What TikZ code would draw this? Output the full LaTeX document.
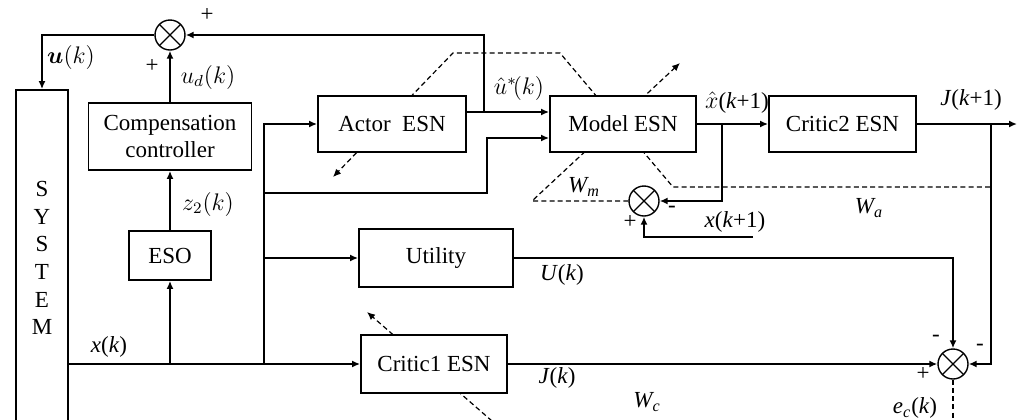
\documentclass[tikz,border=0pt]{standalone}
\usepackage{amsmath,amssymb}
\usepackage{fontspec}
\setmainfont{Liberation Serif}
\usetikzlibrary{arrows.meta}

\tikzset{
	blk/.style={draw,line width=0.9pt,fill=white,align=center,inner sep=0pt},
	sumnode/.style={draw,circle,line width=0.7pt,minimum size=15pt,inner sep=0pt,fill=white,
		path picture={\draw[line width=0.6pt](path picture bounding box.north west)--(path picture bounding box.south east)
			(path picture bounding box.north east)--(path picture bounding box.south west);}},
	wire/.style={line width=0.8pt},
	arr/.style={wire,-{Latex[length=4pt,width=3.5pt]}},
	wt/.style={line width=0.6pt,dash pattern=on 2.5pt off 1.6pt},
	wtarr/.style={wt,-{Latex[length=4pt,width=3.5pt]}}
}

\begin{document}
\begin{tikzpicture}[x=0.5pt,y=-0.5pt,font=\fontsize{11.5}{13.8}\selectfont]
	
	\useasboundingbox (0,0) rectangle (1024,419);
	\clip (0,0) rectangle (1024,419);
	
	\node[sumnode](s1) at (170,35){};
	\node[sumnode](s2) at (644,201){};
	\node[sumnode](s3) at (953,364){};
	
	
	\draw[wtarr](990,187)--(673,187)--(560,53)--(453,53)--(333,177);
	\draw[wtarr](s2.west)--(532,201)--(680,63);
	\draw[wtarr](492,421)--(367,312);
	
	
	\node[blk,minimum width=26pt,minimum height=168pt,font=\fontsize{11.5}{13.8}\selectfont](sys) at (42,258){S\\Y\\S\\T\\E\\M};
	\node[blk,minimum width=81.5pt,minimum height=33.5pt,font=\fontsize{11.5}{13.5}\selectfont](comp) at (170,136.5){Compensation\\controller};
	\node[blk,minimum width=41pt,minimum height=24.5pt](eso) at (170,255.5){ESO};
	\node[blk,minimum width=74pt,minimum height=28pt](actor) at (392,124){Actor\enspace ESN};
	\node[blk,minimum width=73pt,minimum height=28pt](model) at (623,124){Model ESN};
	\node[blk,minimum width=73.5pt,minimum height=28pt](crit2) at (842.5,124){Critic2 ESN};
	\node[blk,minimum width=77pt,minimum height=29pt](util) at (436,258){Utility};
	\node[blk,minimum width=73pt,minimum height=29pt](crit1) at (434,364){Critic1 ESN};
	
	
	\coordinate (jv) at (264,364);
	\coordinate (a1) at ([yshift=6pt]actor.east);
	\coordinate (m1) at ([yshift=6pt]model.west);
	\coordinate (m2) at ([yshift=-7pt]model.west);
	\coordinate (ja) at (484,112);
	\coordinate (jx) at (722,124);
	\coordinate (xin) at (753,237);
	\coordinate (jj) at (991,124);
	\coordinate (jout) at (1017,124);
	\coordinate (ecend) at (953,425);
	
	
	\draw[arr](s1)-|(sys.north);
	\draw[arr](comp)--(s1);
	\draw[arr](eso)--(comp);
	\draw[arr](sys.east |- crit1.west)--(crit1.west);
	\draw[arr](eso.south |- crit1.west)--(eso.south);
	\draw[arr](jv)|-(actor.west);
	\draw[arr](jv |- util.west)--(util.west);
	\draw[arr](jv |- 0,193)-|([xshift=-31pt]m2)--(m2);
	\draw[arr](a1)--(m1);
	\draw[arr](ja)|-(s1);
	\draw[arr](model)--(crit2);
	\draw[arr](jx)|-(s2);
	\draw[arr](xin)-|(s2);
	\draw[arr](crit2)--(jout);
	\draw[arr](jj)|-(s3);
	\draw[arr](util)-|(s3);
	\draw[arr](crit1)--(s3);
	\draw[wt](s3)--(ecend);
	
	
	\node at (71,57){$\boldsymbol{u}(k)$};
	\node at (207,15){+};
	\node at (152,66){+};
	\node at (208,77){$u_d(k)$};
	\node at (208,204){$z_2(k)$};
	\node at (109,347){\textit{x}(\textit{k})};
	\node at (519,88){$\hat{u}^{*}\!(k)$};
	\node at (737,103){$\hat{x}$(\textit{k}+1)};
	\node at (971,100){\textit{J}(\textit{k}+1)};
	\node at (584,187){\textit{W\textsubscript{m}}};
	\node at (869,208){\textit{W\textsubscript{a}}};
	\node at (735,222){\textit{x}(\textit{k}+1)};
	\node at (672,209){-};
	\node at (630,222){+};
	\node at (562,275){\textit{U}(\textit{k})};
	\node at (557,378){\textit{J}(\textit{k})};
	\node at (647,402){\textit{W\textsubscript{c}}};
	\node at (936,338){-};
	\node at (980,347){-};
	\node at (923,374){+};
	\node at (915,408){\textit{e\textsubscript{c}}(\textit{k})};
	
\end{tikzpicture}
\end{document}
